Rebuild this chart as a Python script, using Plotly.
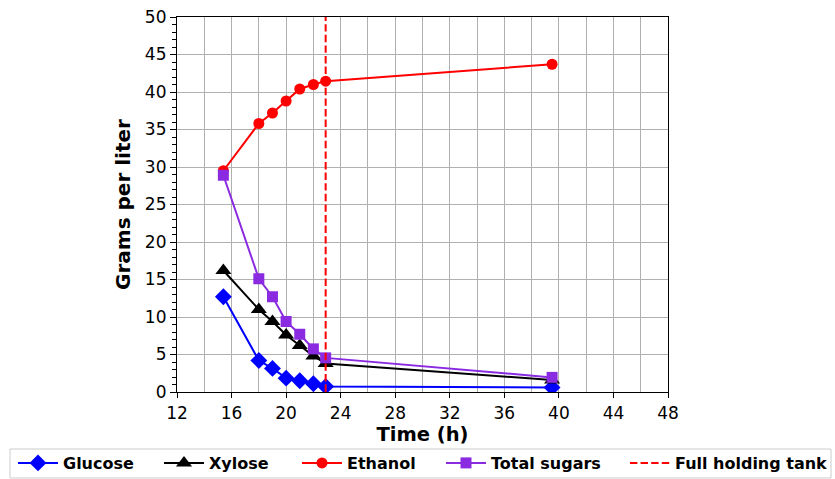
import plotly.graph_objects as go

time_h = [15.4, 18, 19, 20, 21, 22, 22.9, 39.5]
glucose = [12.7, 4.2, 3.15, 1.85, 1.5, 1.1, 0.75, 0.6]
xylose = [16.2, 11.0, 9.4, 7.6, 6.2, 4.8, 3.8, 1.6]
ethanol = [29.5, 35.8, 37.2, 38.8, 40.4, 41.0, 41.45, 43.7]
total_sugars = [28.9, 15.1, 12.7, 9.4, 7.7, 5.75, 4.55, 1.95]
tank_full_time = 22.9
y_range = [0, 50]
x_ticks = [12, 16, 20, 24, 28, 32, 36, 40, 44, 48]

W, H = 835, 479
ML, MR, MT, MB = 177, 167, 17, 87
PW, PH = W - ML - MR, H - MT - MB

legend_left_px = [13, 159, 297, 441, 625]
legend_center_py = 463

fig = go.Figure()
fig.add_trace(go.Scatter(x=time_h, y=glucose, name="Glucose", mode="lines+markers", legend="legend",
                         line=dict(color="#0000ff", width=2),
                         marker=dict(symbol="diamond", size=13, color="#0000ff")))
fig.add_trace(go.Scatter(x=time_h, y=xylose, name="Xylose", mode="lines+markers", legend="legend2",
                         line=dict(color="#000000", width=2),
                         marker=dict(symbol="triangle-up", size=14, color="#000000")))
fig.add_trace(go.Scatter(x=time_h, y=ethanol, name="Ethanol", mode="lines+markers", legend="legend3",
                         line=dict(color="#ff0000", width=2),
                         marker=dict(symbol="circle", size=11, color="#ff0000")))
fig.add_trace(go.Scatter(x=time_h, y=total_sugars, name="Total sugars", mode="lines+markers", legend="legend4",
                         line=dict(color="#8a2be2", width=2),
                         marker=dict(symbol="square", size=11, color="#8a2be2")))
fig.add_trace(go.Scatter(x=[tank_full_time, tank_full_time], y=y_range, name="Full holding tank",
                         mode="lines", legend="legend5",
                         line=dict(color="#ff0000", width=2, dash="7.4px,3.2px")))

legend_font = dict(family="DejaVu Sans", size=16, weight="bold", color="black")
legends = {}
for i, lx in enumerate(legend_left_px):
    key = "legend" if i == 0 else f"legend{i + 1}"
    legends[key] = dict(orientation="h", xref="container", yref="container",
                        x=lx / W, xanchor="left", y=(H - legend_center_py) / H, yanchor="middle",
                        bgcolor="rgba(0,0,0,0)", borderwidth=0, font=legend_font, itemwidth=40)

fig.update_layout(
    width=W, height=H,
    margin=dict(l=ML, r=MR, t=MT, b=MB, autoexpand=False),
    paper_bgcolor="white", plot_bgcolor="white",
    font=dict(family="DejaVu Sans", size=17, color="black"),
    showlegend=True,
    **legends,
)
# legend frame
fig.add_shape(type="rect", xref="paper", yref="paper",
              x0=(10 - ML) / PW, x1=(831 - ML) / PW,
              y0=(MT + PH - 449) / PH, y1=(MT + PH - 478) / PH,
              line=dict(color="#cccccc", width=1), fillcolor="rgba(0,0,0,0)", layer="below")

fig.update_xaxes(range=[12, 48], tickvals=x_ticks, ticks="outside", ticklen=5,
                 tickcolor="black", showline=True, linecolor="black", linewidth=1.2, mirror=True,
                 showgrid=True, gridcolor="#b0b0b0", gridwidth=1, automargin=False,
                 minor=dict(dtick=2, showgrid=True, gridcolor="#b0b0b0", ticks=""),
                 title=dict(text="<b>Time (h)</b>", font=dict(size=19.5), standoff=8),
                 tickfont=dict(size=17), zeroline=False)
fig.update_yaxes(range=y_range, dtick=5, ticks="outside", ticklen=6, tickcolor="black",
                 showline=True, linecolor="black", linewidth=1.2, mirror=True,
                 showgrid=True, gridcolor="#b0b0b0", gridwidth=1, automargin=False,
                 minor=dict(dtick=1, ticks="outside", ticklen=3.5, tickcolor="black", showgrid=False),
                 title=dict(text="<b>Grams per liter</b>", font=dict(size=20), standoff=8),
                 tickfont=dict(size=17), zeroline=False)

fig.write_html("out.html")
